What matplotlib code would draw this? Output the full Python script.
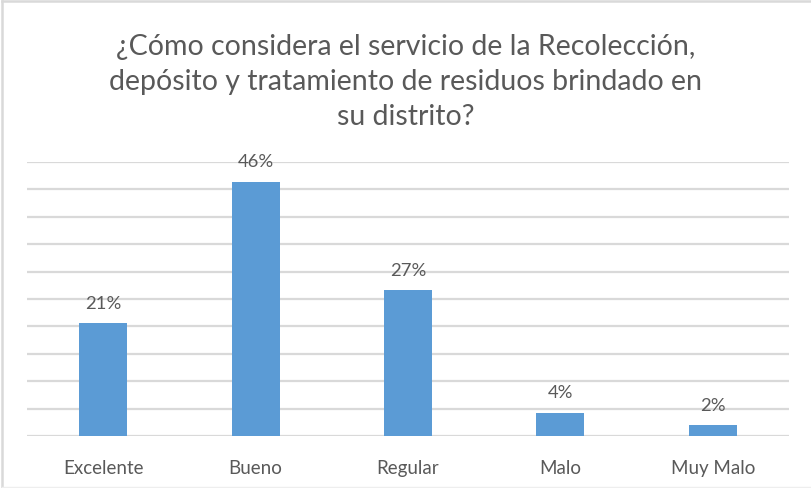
import matplotlib
matplotlib.use("Agg")
import matplotlib.pyplot as plt
from matplotlib.lines import Line2D

categories = ["Excelente", "Bueno", "Regular", "Malo", "Muy Malo"]
values = [20.6, 46.4, 26.6, 4.2, 2.0]
title = "¿Cómo considera el servicio de la Recolección,\ndepósito y tratamiento de residuos brindado en\nsu distrito?"

plt.rcParams['font.family'] = ['Lato', 'DejaVu Sans']

fig = plt.figure(figsize=(8.12, 4.89), dpi=100)
ax = fig.add_axes([27/812, 52/489, 762/812, 274/489])

x = list(range(len(categories)))
ax.bar(x, values, width=0.315, color="#5B9BD5", zorder=3)
ax.set_xlim(-0.5, len(categories) - 0.5)
ax.set_ylim(0, 50)
ax.set_yticks(range(0, 51, 5))
ax.yaxis.grid(True, color="#D9D9D9", linewidth=1.6, zorder=0)
ax.tick_params(axis='y', left=False, labelleft=False)
ax.tick_params(axis='x', bottom=False, pad=13, labelsize=13.5, labelcolor="#595959")
ax.set_xticks(x)
ax.set_xticklabels(categories)
for s in ax.spines.values():
    s.set_visible(False)

for xi, v in zip(x, values):
    ax.annotate(f"{v:.0f}%", (xi, v), xytext=(0, 9), textcoords="offset points",
                ha="center", va="bottom", fontsize=13.3, color="#595959")

fig.text(0.5, 1 - 82/489, title, ha="center", va="center", fontsize=20.5,
         color="#595959", linespacing=1.42)

fig.add_artist(Line2D([2/812, 2/812], [0, 1 - 2/489], transform=fig.transFigure,
                      color="#D9D9D9", linewidth=1.8))
fig.add_artist(Line2D([2/812, 1], [1 - 2/489, 1 - 2/489], transform=fig.transFigure,
                      color="#D9D9D9", linewidth=1.8))
fig.add_artist(Line2D([2/812, 1], [1.5/489, 1.5/489], transform=fig.transFigure,
                      color="#EEEEEE", linewidth=1.0))

fig.savefig("out.png", dpi=100)
